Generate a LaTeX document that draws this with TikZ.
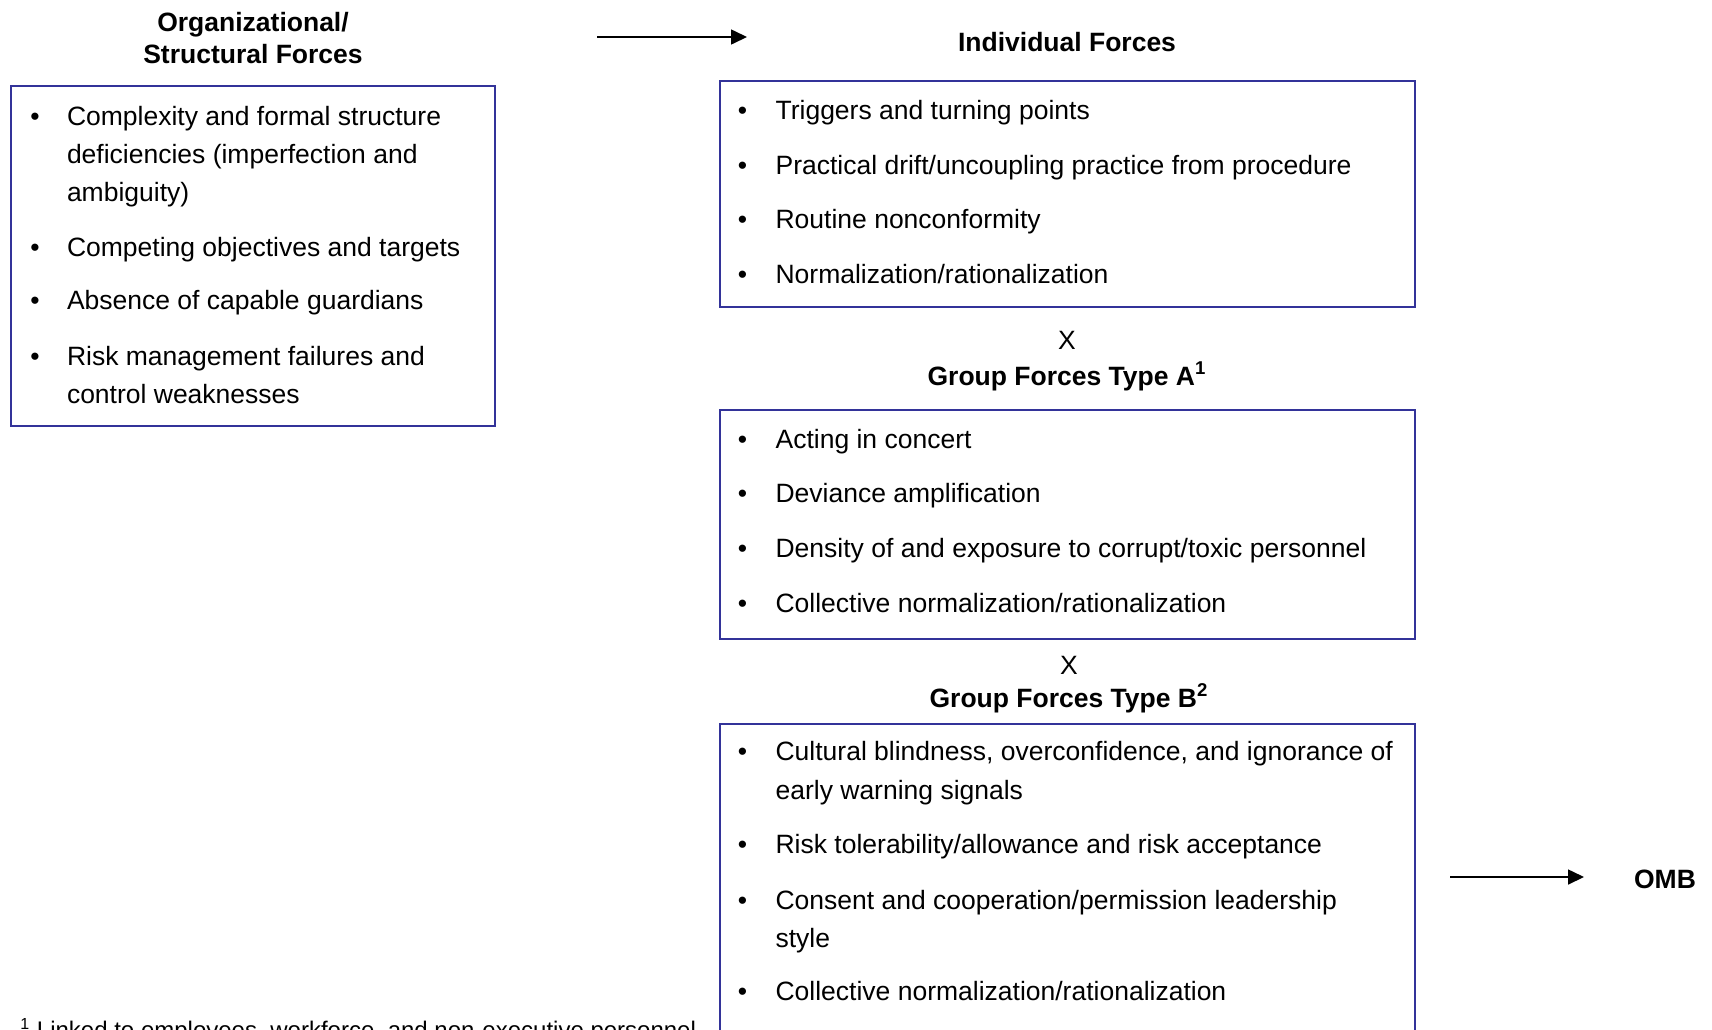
\documentclass[tikz,border=0pt]{standalone}
\usepackage{fontspec}
\setmainfont{Liberation Sans}
\usetikzlibrary{arrows.meta}
\definecolor{boxblue}{RGB}{51,51,153}

\begin{document}
\begin{tikzpicture}[x=0.5pt,y=-0.5pt,
	box/.style={draw=boxblue, line width=1pt},
	txt/.style={anchor=base west, inner sep=0pt, font=\fontsize{13.25}{16}\selectfont},
	dot/.style={anchor=base, inner sep=0pt, font=\fontsize{13.25}{16}\selectfont},
	head/.style={anchor=base, inner sep=0pt, font=\fontsize{13.25}{16}\selectfont\bfseries},
	arr/.style={-{Triangle[length=8pt,width=7.5pt]}, line width=0.8pt}]
	
	\useasboundingbox (0,0) rectangle (1712,1029);
	\clip (0,0) rectangle (1712,1029);
	
	\def\bl{35} % bullet x left box
	\def\tl{66.6} % text x left box
	\def\br{742.4} % bullet x right boxes
	\def\tr{775.2} % text x right boxes
	
	% boxes
	\coordinate (org-nw) at (11,86);
	\coordinate (org-se) at (495,426);
	\coordinate (ind-nw) at (720,81);
	\coordinate (ind-se) at (1415,307);
	\coordinate (gra-nw) at (720,410);
	\coordinate (gra-se) at (1415,639);
	\coordinate (grb-nw) at (720,724);
	\coordinate (grb-se) at (1415,1100);
	\draw[box] (org-nw) rectangle (org-se);
	\draw[box] (ind-nw) rectangle (ind-se);
	\draw[box] (gra-nw) rectangle (gra-se);
	\draw[box] (grb-nw) rectangle (grb-se);
	
	% headings
	\node[head] (orgtitle1) at (253,31) {Organizational/};
	\node[head] (orgtitle2) at (253,63) {Structural Forces};
	\node[head] (indtitle) at (1067,51) {Individual Forces};
	\node[dot] (times1) at (1067,349) {X};
	\node[head] (gratitle) at (1067,385) {Group Forces Type A\textsuperscript{1}};
	\node[dot] (times2) at (1069,674) {X};
	\node[head] (grbtitle) at (1069,707) {Group Forces Type B\textsuperscript{2}};
	\node[head] (omb) at (1665,888) {OMB};
	
	% arrows
	\coordinate (top-s) at (597,37);
	\coordinate (top-e) at (747,37);
	\draw[arr] (top-s) -- (top-e);
	\coordinate (omb-s) at (1450,877);
	\coordinate (omb-e) at (1584,877);
	\draw[arr] (omb-s) -- (omb-e);
	
	% organizational/structural forces
	\node[dot] (ob1) at (\bl,125) {•};
	\node[txt] (o1) at (\tl,125) {Complexity and formal structure};
	\node[txt] (o2) at (\tl,163) {deficiencies (imperfection and};
	\node[txt] (o3) at (\tl,201) {ambiguity)};
	\node[dot] (ob2) at (\bl,256) {•};
	\node[txt] (o4) at (\tl,256) {Competing objectives and targets};
	\node[dot] (ob3) at (\bl,309) {•};
	\node[txt] (o5) at (\tl,309) {Absence of capable guardians};
	\node[dot] (ob4) at (\bl,365) {•};
	\node[txt] (o6) at (\tl,365) {Risk management failures and};
	\node[txt] (o7) at (\tl,403) {control weaknesses};
	
	% individual forces
	\node[dot] (ib1) at (\br,119) {•};
	\node[txt] (i1) at (\tr,119) {Triggers and turning points};
	\node[dot] (ib2) at (\br,174) {•};
	\node[txt] (i2) at (\tr,174) {Practical drift/uncoupling practice from procedure};
	\node[dot] (ib3) at (\br,228) {•};
	\node[txt] (i3) at (\tr,228) {Routine nonconformity};
	\node[dot] (ib4) at (\br,283) {•};
	\node[txt] (i4) at (\tr,283) {Normalization/rationalization};
	
	% group forces type A
	\node[dot] (ab1) at (\br,448) {•};
	\node[txt] (a1) at (\tr,448) {Acting in concert};
	\node[dot] (ab2) at (\br,502) {•};
	\node[txt] (a2) at (\tr,502) {Deviance amplification};
	\node[dot] (ab3) at (\br,557) {•};
	\node[txt] (a3) at (\tr,557) {Density of and exposure to corrupt/toxic personnel};
	\node[dot] (ab4) at (\br,612) {•};
	\node[txt] (a4) at (\tr,612) {Collective normalization/rationalization};
	
	% group forces type B
	\node[dot] (bb1) at (\br,760) {•};
	\node[txt] (b1) at (\tr,760) {Cultural blindness, overconfidence, and ignorance of};
	\node[txt] (b2) at (\tr,799) {early warning signals};
	\node[dot] (bb2) at (\br,853) {•};
	\node[txt] (b3) at (\tr,853) {Risk tolerability/allowance and risk acceptance};
	\node[dot] (bb3) at (\br,909) {•};
	\node[txt] (b4) at (\tr,909) {Consent and cooperation/permission leadership};
	\node[txt] (b5) at (\tr,947) {style};
	\node[dot] (bb4) at (\br,1000) {•};
	\node[txt] (b6) at (\tr,1000) {Collective normalization/rationalization};
	
	% footnote (cut off at the bottom, as in the original)
	\node[txt, font=\fontsize{12}{14}\selectfont] (fn1) at (20,1038) {\textsuperscript{1} Linked to employees, workforce, and non-executive personnel};
\end{tikzpicture}
\end{document}
